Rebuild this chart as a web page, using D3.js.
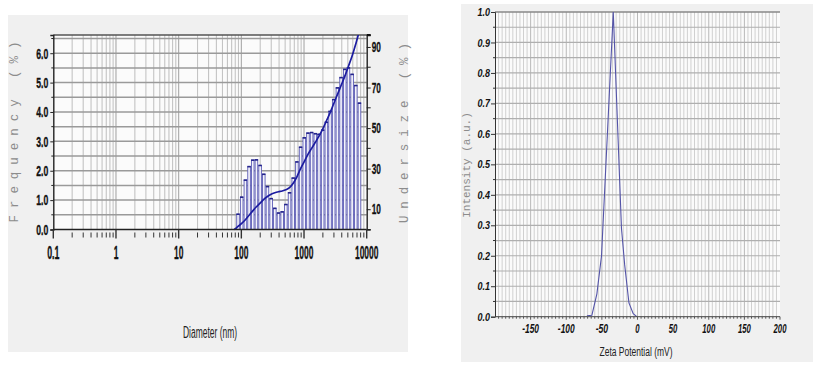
<!DOCTYPE html>
<html><head><meta charset="utf-8">
<script src="https://cdn.jsdelivr.net/npm/d3@7"></script>
<style>body{margin:0;background:#fff}svg{display:block}</style>
</head><body>
<svg id="c" width="819" height="368"></svg>
<script>
// ---------------- DATA ----------------
// Particle size distribution (left)
const binDiameterNm = [88.5,101.3,116.0,132.8,152.0,174.0,199.2,228.0,261.0,298.8,342.1,391.6,448.3,513.2,587.5,672.6,770.0,881.5,1009,1155,1322,1514,1733,1984,2271,2600,2976,3407,3900,4465,5111,5851,6698,7668];
const frequencyPct = [0.52,1.10,1.68,2.14,2.36,2.37,2.18,1.88,1.46,1.05,0.72,0.56,0.60,0.85,1.25,1.75,2.30,2.80,3.12,3.28,3.30,3.26,3.24,3.38,3.65,4.02,4.42,4.82,5.17,5.45,5.50,5.28,4.90,4.30];
const undersizeNm  = [77.3,88.5,101.3,116.0,132.8,152.0,174.0,199.2,228.0,261.0,298.8,342.1,391.6,448.3,513.2,587.5,672.6,770.0,881.5,1009,1155,1322,1514,1733,1984,2271,2600,2976,3407,3900,4465,5111,5851,6698,7668,8778];
const undersizePct = [0,1.5,3.0,4.8,7.0,9.2,11.2,13.0,14.8,16.3,17.4,18.1,18.6,19.0,19.6,20.6,22.8,26.0,30.0,33.5,37,40,43,46,49.5,53.5,57.5,62,66.5,71,75.5,80.5,85.5,91.5,98,104];
const diameterTickLabels = ["0.1","1","10","100","1000","10000"];
const frequencyTicks = [0,1,2,3,4,5,6];
const undersizeTicks = [10,30,50,70,90];
// Zeta potential (right)
const zetaMv = [-71,-64,-57,-50.5,-34,-22.5,-18,-12,-6,-1];
const zetaIntensity = [0.003,0.005,0.075,0.2,1.0,0.29,0.17,0.045,0.01,0];
const zetaTicks = [-150,-100,-50,0,50,100,150,200];
const intensityTicks = [0,0.1,0.2,0.3,0.4,0.5,0.6,0.7,0.8,0.9,1.0];

// ---------------- DRAW ----------------
const svg = d3.select("#c");
const narrow = "'Liberation Sans Narrow','Arial Narrow','Liberation Sans',Arial,sans-serif";
const mono = "'Liberation Mono','Courier New',monospace";
function textW(s, digit, dot){ let w=0; for(const ch of s){ w += (ch==="."?dot:(ch==="-"?dot*1.5:digit)); } return w; }

// ===== LEFT PANEL =====
svg.append("rect").attr("x",8).attr("y",15).attr("width",400).attr("height",337).attr("fill","#f0f0f0");
const L = {x0:53.3, x1:366.7, y0:229.5, y1:35};
svg.append("rect").attr("x",L.x0).attr("y",L.y1).attr("width",L.x1-L.x0).attr("height",L.y0-L.y1).attr("fill","#fbfbfb");

const xL = d3.scaleLog().domain([0.1,10000]).range([L.x0,L.x1]);
const yL = d3.scaleLinear().domain([0,6.62]).range([L.y0,L.y1]);
const yR = d3.scaleLinear().domain([0,95.9]).range([L.y0,L.y1]);

const gL = svg.append("g");
const isDecade = d => Math.abs(Math.log10(d)-Math.round(Math.log10(d)))<1e-6;
// vertical log gridlines
const logTicks = xL.ticks().filter(v => v>0.1 && v<10000);
gL.append("g").selectAll("line").data(logTicks).join("line")
  .attr("x1",d=>xL(d)).attr("x2",d=>xL(d)).attr("y1",L.y1).attr("y2",L.y0)
  .attr("stroke", d => isDecade(d) ? "#a8a8a8" : "#c4c4c4").attr("stroke-width",1.1);
// horizontal gridlines every 0.5
gL.append("g").selectAll("line").data(d3.range(0.5,6.6,0.5)).join("line")
  .attr("x1",L.x0).attr("x2",L.x1).attr("y1",d=>yL(d)).attr("y2",d=>yL(d))
  .attr("stroke","#9a9a9a").attr("stroke-width",1.5);
// top border
gL.append("line").attr("x1",L.x0).attr("x2",L.x1).attr("y1",L.y1).attr("y2",L.y1).attr("stroke","#555").attr("stroke-width",1.6);

// bars (outlined)
const bars = gL.append("g");
bars.selectAll("rect.bar").data(binDiameterNm).join("rect").attr("class","bar")
  .attr("x",d=>xL(d)-1.3).attr("width",2.6)
  .attr("y",(d,i)=>yL(frequencyPct[i])).attr("height",(d,i)=>L.y0-yL(frequencyPct[i]))
  .attr("fill","#f4f4fb").attr("stroke","#5c5cb6").attr("stroke-width",0.9);
bars.selectAll("line.cap").data(binDiameterNm).join("line").attr("class","cap")
  .attr("x1",d=>xL(d)-1.7).attr("x2",d=>xL(d)+1.7).attr("y1",(d,i)=>yL(frequencyPct[i])).attr("y2",(d,i)=>yL(frequencyPct[i]))
  .attr("stroke","#24248c").attr("stroke-width",1.6);

// undersize curve
svg.append("clipPath").attr("id","clipL").append("rect").attr("x",L.x0).attr("y",L.y1).attr("width",L.x1-L.x0).attr("height",L.y0-L.y1+2);
const lineU = d3.line().x((d,i)=>xL(undersizeNm[i])).y(d=>yR(d)).curve(d3.curveMonotoneX);
gL.append("path").datum(undersizePct).attr("d",lineU).attr("fill","none")
  .attr("stroke","#1c1ca0").attr("stroke-width",1.7).attr("clip-path","url(#clipL)");

// left axis
const axL = svg.append("g").attr("transform",`translate(${L.x0},0)`)
  .call(d3.axisLeft(yL).tickValues(frequencyTicks).tickFormat(d3.format(".1f")).tickSize(3).tickPadding(2));
axL.select(".domain").attr("stroke","#222").attr("stroke-width",1.4);
axL.selectAll(".tick line").attr("stroke","#222");
axL.selectAll(".tick text").attr("font-family",narrow).attr("font-weight","bold").attr("font-size",15)
  .attr("fill","#111").attr("stroke","#111").attr("stroke-width",0.35)
  .attr("lengthAdjust","spacingAndGlyphs").attr("textLength",function(){return textW(this.textContent,4.7,2.6);});
svg.append("g").selectAll("line").data(d3.range(0.5,6.6,1)).join("line")
  .attr("x1",L.x0-2).attr("x2",L.x0).attr("y1",d=>yL(d)).attr("y2",d=>yL(d)).attr("stroke","#222");

// right axis
const axR = svg.append("g").attr("transform",`translate(${L.x1},0)`)
  .call(d3.axisRight(yR).tickValues(undersizeTicks).tickFormat(d3.format("d")).tickSize(4).tickPadding(1));
axR.select(".domain").attr("stroke","#222").attr("stroke-width",1.4);
axR.selectAll(".tick line").attr("stroke","#222");
axR.selectAll(".tick text").attr("font-family",narrow).attr("font-weight","bold").attr("font-size",14)
  .attr("fill","#111").attr("stroke","#111").attr("stroke-width",0.3)
  .attr("lengthAdjust","spacingAndGlyphs").attr("textLength",function(){return textW(this.textContent,4.6,2.5);});
svg.append("g").selectAll("line").data([0,20,40,60,80]).join("line")
  .attr("x1",L.x1).attr("x2",L.x1+4).attr("y1",d=>yR(d)).attr("y2",d=>yR(d)).attr("stroke","#222");
svg.append("line").attr("x1",L.x1).attr("x2",L.x1+4).attr("y1",L.y1).attr("y2",L.y1).attr("stroke","#111").attr("stroke-width",2);

// bottom axis
const axB = svg.append("g").attr("transform",`translate(0,${L.y0})`);
axB.append("line").attr("x1",L.x0).attr("x2",L.x1).attr("stroke","#222").attr("stroke-width",1.4);
const allLog = xL.ticks();
axB.selectAll("line.t").data(allLog).join("line").attr("class","t")
  .attr("x1",d=>xL(d)).attr("x2",d=>xL(d))
  .attr("y1",d=> isDecade(d) ? 0 : 3)
  .attr("y2",d=> isDecade(d) ? 9 : 8)
  .attr("stroke","#333").attr("stroke-width",d=> isDecade(d)?1.4:1);
axB.selectAll("text").data(diameterTickLabels).join("text")
  .attr("x",d=>xL(+d)).attr("y",29.5).attr("text-anchor","middle")
  .attr("font-family",narrow).attr("font-weight","bold").attr("font-size",18.5).attr("fill","#111")
  .attr("stroke","#111").attr("stroke-width",0.35)
  .attr("lengthAdjust","spacingAndGlyphs").attr("textLength",d=>textW(d,4.7,2.8)).text(d=>d);

// titles
svg.append("text").attr("x",210).attr("y",338).attr("text-anchor","middle")
  .attr("font-family",narrow).attr("font-size",16).attr("fill","#222")
  .attr("lengthAdjust","spacingAndGlyphs").attr("textLength",54).text("Diameter (nm)");
svg.append("text").attr("transform","translate(18,132) rotate(-90)").attr("text-anchor","middle")
  .attr("font-family",mono).attr("font-size",12.5).attr("fill","#8c8c8c")
  .attr("lengthAdjust","spacing").attr("textLength",181).text("Frequency (%)");
svg.append("text").attr("transform","translate(408,133) rotate(-90)").attr("text-anchor","middle")
  .attr("font-family",mono).attr("font-size",12.5).attr("fill","#8c8c8c")
  .attr("lengthAdjust","spacing").attr("textLength",180).text("Undersize (%)");

// ===== RIGHT PANEL =====
svg.append("rect").attr("x",461).attr("y",4).attr("width",352).attr("height",358).attr("fill","#f0f0f0");
const R = {x0:495, x1:780, y0:316.7, y1:12};
svg.append("rect").attr("x",R.x0).attr("y",R.y1).attr("width",R.x1-R.x0).attr("height",R.y0-R.y1).attr("fill","#fbfbfb");
const xZ = d3.scaleLinear().domain([-200,200]).range([R.x0,R.x1]);
const yZ = d3.scaleLinear().domain([0,1]).range([R.y0,R.y1]);
const gR = svg.append("g");
gR.append("g").selectAll("line").data(d3.range(-195,200,5)).join("line")
  .attr("x1",d=>xZ(d)).attr("x2",d=>xZ(d)).attr("y1",R.y1).attr("y2",R.y0)
  .attr("stroke",d=> d%50===0 ? "#b8b8b8" : "#d0d0d0").attr("stroke-width",1);
gR.append("g").selectAll("line").data(d3.range(1,20).map(i=>i*0.05)).join("line")
  .attr("x1",R.x0).attr("x2",R.x1).attr("y1",d=>yZ(d)).attr("y2",d=>yZ(d))
  .attr("stroke","#afafaf").attr("stroke-width",1.2);
gR.append("line").attr("x1",R.x0).attr("x2",R.x1).attr("y1",R.y1).attr("y2",R.y1).attr("stroke","#888").attr("stroke-width",1.5);

const lineZ = d3.line().x((d,i)=>xZ(zetaMv[i])).y(d=>yZ(d));
gR.append("path").datum(zetaIntensity).attr("d",lineZ).attr("fill","none").attr("stroke","#5454a8").attr("stroke-width",1.1);

const axZL = svg.append("g").attr("transform",`translate(${R.x0},0)`)
  .call(d3.axisLeft(yZ).tickValues(intensityTicks).tickFormat(d3.format(".1f")).tickSize(4).tickPadding(1));
axZL.select(".domain").attr("stroke","#333");
axZL.selectAll(".tick line").attr("stroke","#333");
axZL.selectAll(".tick text").attr("font-family","'Liberation Sans',Arial,sans-serif").attr("font-weight","bold").attr("font-style","italic")
  .attr("font-size",11).attr("fill","#111").attr("lengthAdjust","spacingAndGlyphs").attr("textLength",12.5);
svg.append("g").selectAll("line").data(d3.range(0,10).map(i=>i*0.1+0.05)).join("line")
  .attr("x1",R.x0-2).attr("x2",R.x0).attr("y1",d=>yZ(d)).attr("y2",d=>yZ(d)).attr("stroke","#333");

const axZB = svg.append("g").attr("transform",`translate(0,${R.y0})`);
axZB.append("line").attr("x1",R.x0).attr("x2",R.x1).attr("stroke","#444");
axZB.selectAll("line.t").data(d3.range(-195,205,5)).join("line").attr("class","t")
  .attr("x1",d=>xZ(d)).attr("x2",d=>xZ(d)).attr("y1",0).attr("y2",d=>d%50===0?3:2).attr("stroke","#555");
axZB.selectAll("text").data(zetaTicks).join("text")
  .attr("x",d=>xZ(d)).attr("y",16).attr("text-anchor","middle")
  .attr("font-family","'Liberation Sans',Arial,sans-serif").attr("font-weight","bold").attr("font-style","italic")
  .attr("font-size",12).attr("fill","#111").attr("lengthAdjust","spacingAndGlyphs")
  .attr("textLength",d=>textW(String(d),4.3,2.6)).text(d=>d);

svg.append("text").attr("x",636).attr("y",356).attr("text-anchor","middle")
  .attr("font-family",narrow).attr("font-size",12.5).attr("fill","#222")
  .attr("lengthAdjust","spacingAndGlyphs").attr("textLength",73).text("Zeta Potential (mV)");
svg.append("text").attr("transform","translate(470,165) rotate(-90)").attr("text-anchor","middle")
  .attr("font-family",mono).attr("font-size",11).attr("fill","#8c8c8c").text("Intensity (a.u.)");
</script>
</body></html>
